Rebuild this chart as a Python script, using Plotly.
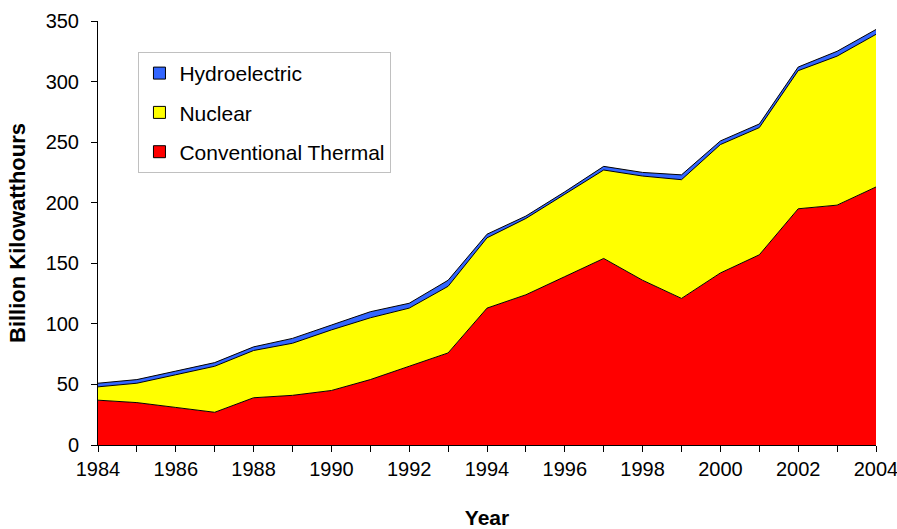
import plotly.graph_objects as go

years = list(range(1984, 2005))
thermal = [37, 35, 31, 27, 39, 41, 45, 54, 65, 76, 113, 124, 139, 154, 136, 121, 142, 157, 195, 198, 213]
nuclear = [11, 16, 27, 38, 39, 43, 50, 51, 48, 55, 58, 63, 68, 73, 86, 98, 106, 105, 114, 123, 126]
hydro = [3, 3, 3, 3, 3, 4, 4, 5, 4, 5, 3, 2, 2, 3, 3, 4, 3, 3, 3, 4, 4]

series = [
    ("Conventional Thermal", thermal, "#FF0000"),
    ("Nuclear", nuclear, "#FFFF00"),
    ("Hydroelectric", hydro, "#3366FF"),
]

FONT = "Liberation Sans, Arial, sans-serif"

fig = go.Figure()
for name, vals, col in series:
    fig.add_trace(go.Scatter(
        x=years, y=vals, name=name, stackgroup="one", mode="lines",
        line=dict(color="black", width=1), fillcolor=col,
        showlegend=False, hoverinfo="skip",
    ))
# legend swatches (square markers), listed top to bottom
for name, vals, col in reversed(series):
    fig.add_trace(go.Bar(
        x=[None], y=[None], name=name, legendgroup=name,
        marker=dict(color=col, line=dict(color="black", width=1)),
    ))

fig.update_layout(
    width=897, height=529,
    margin=dict(l=98, r=21, t=21, b=84),
    paper_bgcolor="white", plot_bgcolor="white",
    font=dict(family=FONT, color="black", size=19),
    showlegend=True,
    legend=dict(
        x=0.052, y=0.927, xanchor="left", yanchor="top",
        traceorder="grouped", tracegroupgap=9,
        bordercolor="#c0c0c0", borderwidth=1, bgcolor="white",
        font=dict(size=21, family=FONT), itemwidth=30,
    ),
    xaxis=dict(
        range=[1984, 2004], dtick=2, tick0=1984,
        ticks="outside", ticklen=6, tickcolor="black",
        showline=True, linecolor="black", linewidth=1,
        showgrid=False, zeroline=False, automargin=False,
        ticklabeloverflow="allow",
        minor=dict(dtick=1, ticks="outside", ticklen=6, tickcolor="black", showgrid=False),
        tickfont=dict(size=20),
        title=dict(text="<b>Year</b>", font=dict(size=21), standoff=35),
    ),
    yaxis=dict(
        range=[0, 350], dtick=50,
        ticks="outside", ticklen=6, tickcolor="black",
        showline=True, linecolor="black", linewidth=1,
        showgrid=False, zeroline=False, automargin=False,
        ticklabeloverflow="allow", ticklabelstandoff=8,
        tickfont=dict(size=20),
        title=dict(text="<b>Billion Kilowatthours</b>", font=dict(size=22), standoff=13),
    ),
)

fig.write_html(
    "out.html",
    config={"displayModeBar": False},
    post_script="document.body.style.margin='0';document.body.style.overflow='hidden';",
)
